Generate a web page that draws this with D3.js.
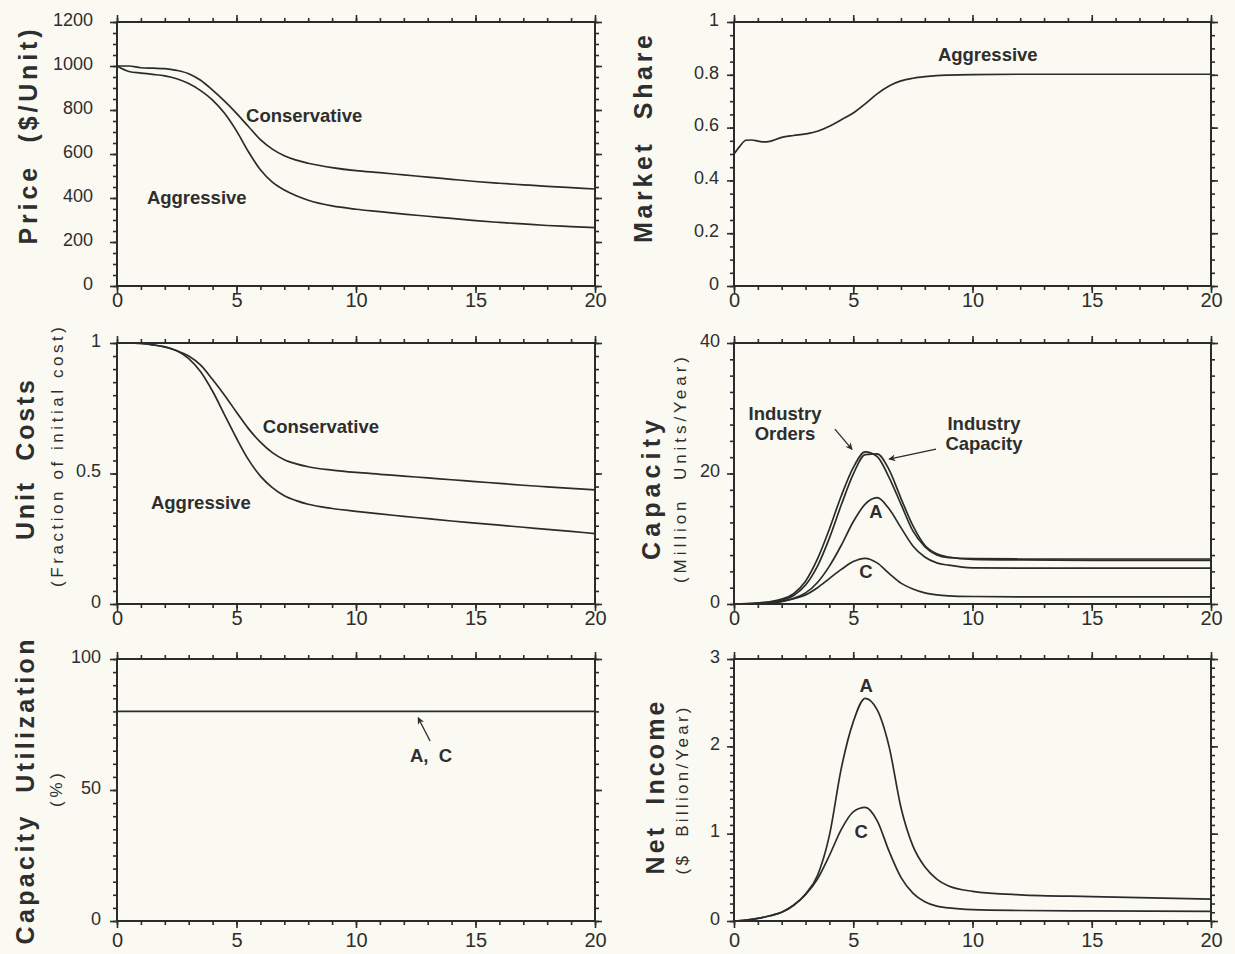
<!DOCTYPE html>
<html>
<head>
<meta charset="utf-8">
<script src="https://cdn.jsdelivr.net/npm/d3@7"></script>
<style>
  body { margin: 0; background: #fafaf2; }
  svg { display: block; }
  text { font-family: "Liberation Sans", Arial, Helvetica, sans-serif; fill: #2e2e2e; }
</style>
</head>
<body>
<svg id="chart" width="1235" height="954"></svg>
<script>
// ---- data (time in years) ----
const priceT = [0, 0.5, 1, 1.5, 2, 2.5, 3, 3.5, 4, 4.5, 5, 5.5, 6, 6.5, 7, 7.5, 8, 9, 10, 11, 12, 13, 14, 15, 16, 17, 18, 19, 20]
const priceConservative = [1000, 1000, 992, 990, 988, 980, 965, 935, 890, 840, 785, 725, 665, 622, 592, 572, 558, 538, 524, 515, 505, 495, 485, 475, 467, 460, 453, 447, 441]
const priceAggressive = [1000, 975, 968, 962, 955, 942, 920, 888, 845, 785, 705, 610, 528, 472, 436, 410, 390, 364, 349, 338, 327, 317, 307, 297, 289, 282, 275, 270, 265]

const costConservative = [1, 1, 0.998, 0.993, 0.985, 0.97, 0.95, 0.915, 0.86, 0.8, 0.735, 0.672, 0.62, 0.58, 0.553, 0.537, 0.526, 0.513, 0.504, 0.497, 0.49, 0.483, 0.476, 0.469, 0.462, 0.455, 0.449, 0.443, 0.437]
const costAggressive = [1, 1, 0.998, 0.993, 0.985, 0.97, 0.94, 0.89, 0.815, 0.725, 0.635, 0.553, 0.49, 0.446, 0.415, 0.396, 0.382, 0.366, 0.355, 0.345, 0.336, 0.327, 0.318, 0.31, 0.302, 0.294, 0.286, 0.278, 0.27]

const shareT = [0, 0.25, 0.5, 0.75, 1, 1.25, 1.5, 2, 2.5, 3, 3.5, 4, 4.5, 5, 5.5, 6, 6.5, 7, 7.5, 8, 8.5, 9, 10, 12, 14, 16, 18, 20]
const shareAggressive = [0.5, 0.53, 0.552, 0.553, 0.549, 0.546, 0.548, 0.563, 0.57, 0.576, 0.586, 0.605, 0.63, 0.655, 0.69, 0.728, 0.758, 0.777, 0.787, 0.793, 0.797, 0.799, 0.801, 0.802, 0.802, 0.802, 0.802, 0.802]

const capT = [0, 0.5, 1, 1.5, 2, 2.5, 3, 3.5, 4, 4.5, 5, 5.5, 6, 6.5, 7, 7.5, 8, 8.5, 9, 10, 12, 15, 20]
const industryOrders = [0, 0.05, 0.15, 0.35, 0.75, 1.6, 3.5, 6.9, 11.5, 16.6, 20.9, 23.3, 22.6, 19.4, 15.3, 11.2, 8.8, 7.5, 7.1, 6.95, 6.9, 6.9, 6.9]
const industryCapacity = [0, 0.04, 0.12, 0.28, 0.6, 1.3, 2.9, 5.8, 10.1, 15.2, 19.9, 22.9, 23.0, 20.6, 16.2, 12.0, 9.0, 7.7, 7.2, 6.85, 6.75, 6.7, 6.7]
const capacityA = [0, 0.02, 0.08, 0.22, 0.45, 0.87, 1.7, 3.3, 5.8, 9.0, 12.6, 15.3, 16.3, 14.6, 11.7, 8.9, 7.2, 6.3, 5.95, 5.55, 5.5, 5.5, 5.5]
const capacityC = [0, 0.02, 0.06, 0.15, 0.35, 0.8, 1.4, 2.5, 3.9, 5.3, 6.5, 7.0, 6.3, 4.7, 3.2, 2.3, 1.7, 1.4, 1.25, 1.15, 1.1, 1.1, 1.1]

const utilT = [0, 20]
const utilizationAC = [80, 80]

const incomeA = [0, 0.01, 0.03, 0.06, 0.1, 0.18, 0.31, 0.52, 0.98, 1.75, 2.28, 2.55, 2.42, 2.0, 1.3, 0.86, 0.62, 0.48, 0.4, 0.34, 0.3, 0.28, 0.25]
const incomeC = [0, 0.01, 0.03, 0.06, 0.1, 0.18, 0.3, 0.48, 0.75, 1.05, 1.25, 1.3, 1.15, 0.8, 0.5, 0.32, 0.22, 0.17, 0.15, 0.13, 0.12, 0.115, 0.11]

const yearTicks = [0, 5, 10, 15, 20]
const yearMinor = d3.range(0, 21)

// ---- layout ----
const ink = '#2b2b2b'
const cols = { left: [117, 595], right: [734, 1211] }
const rows = [[22, 286], [343, 604], [659, 921]]

const svg = d3.select('#chart')
svg.append('rect').attr('width', 1235).attr('height', 954).attr('fill', '#fafaf2')

const zip = (t, v) => t.map((d, i) => [d, v[i]])

const panels = [
  {
    col: 'left', row: 0, yMax: 1200, yTicks: d3.range(0, 1201, 200), yMinor: d3.range(0, 1201, 50), labelGap: 24, xPad: 0,
    series: [zip(priceT, priceConservative), zip(priceT, priceAggressive)],
    titles: [{ text: 'Price  ($/Unit)', x: 37, y: 137, len: 215, big: true }],
    notes: [{ text: 'Conservative', t: 5.4, v: 745 }, { text: 'Aggressive', t: 1.25, v: 373 }],
  },
  {
    col: 'right', row: 0, yMax: 1, yTicks: [0, 0.2, 0.4, 0.6, 0.8, 1], yMinor: d3.range(0, 1.001, 0.05), labelGap: 15, xPad: 0,
    series: [zip(shareT, shareAggressive)],
    titles: [{ text: 'Market  Share', x: 652, y: 139, len: 208, big: true }],
    notes: [{ text: 'Aggressive', t: 8.55, v: 0.852 }],
  },
  {
    col: 'left', row: 1, yMax: 1, yTicks: [0, 0.5, 1], yMinor: d3.range(0, 1.001, 0.05), labelGap: 16, xPad: 0,
    series: [zip(priceT, costConservative), zip(priceT, costAggressive)],
    titles: [
      { text: 'Unit  Costs', x: 34, y: 460, len: 160, big: true },
      { text: '(Fraction of initial cost)', x: 63, y: 457, len: 260 },
    ],
    notes: [{ text: 'Conservative', t: 6.1, v: 0.656 }, { text: 'Aggressive', t: 1.42, v: 0.363 }],
  },
  {
    col: 'right', row: 1, yMax: 40, yTicks: [0, 20, 40], yMinor: d3.range(0, 40.1, 2.5), labelGap: 14, xPad: 0,
    series: [zip(capT, industryOrders), zip(capT, industryCapacity), zip(capT, capacityA), zip(capT, capacityC)],
    titles: [
      { text: 'Capacity', x: 660, y: 490, len: 140, big: true },
      { text: '(Million  Units/Year)', x: 686, y: 470, len: 226 },
    ],
    notes: [
      { text: 'Industry', t: 2.14, v: 28.2, anchor: 'middle' },
      { text: 'Orders', t: 2.14, v: 25.1, anchor: 'middle' },
      { text: 'Industry', t: 10.48, v: 26.7, anchor: 'middle' },
      { text: 'Capacity', t: 10.48, v: 23.6, anchor: 'middle' },
      { text: 'A', t: 5.95, v: 13.2, anchor: 'middle' },
      { text: 'C', t: 5.53, v: 4.0, anchor: 'middle' },
    ],
    arrows: [
      { from: [4.23, 26.8], to: [4.95, 23.7] },
      { from: [8.47, 23.75], to: [6.5, 22.2] },
    ],
  },
  {
    col: 'left', row: 2, yMax: 100, yTicks: [0, 50, 100], yMinor: d3.range(0, 101, 5), labelGap: 16, xPad: 5,
    series: [zip(utilT, utilizationAC)],
    titles: [
      { text: 'Capacity  Utilization', x: 34, y: 792, len: 305, big: true },
      { text: '(%)', x: 62, y: 790, len: 34 },
    ],
    notes: [{ text: 'A,  C', t: 12.26, v: 60.7 }],
    arrows: [{ from: [13.1, 68.7], to: [12.6, 77.6] }],
  },
  {
    col: 'right', row: 2, yMax: 3, yTicks: [0, 1, 2, 3], yMinor: d3.range(0, 3.001, 0.1), labelGap: 14, xPad: 5,
    series: [zip(capT, incomeA), zip(capT, incomeC)],
    titles: [
      { text: 'Net  Income', x: 664, y: 788, len: 173, big: true },
      { text: '($  Billion/Year)', x: 688, y: 791, len: 167 },
    ],
    notes: [{ text: 'A', t: 5.54, v: 2.62, anchor: 'middle' }, { text: 'C', t: 5.33, v: 0.95, anchor: 'middle' }],
  },
]

svg.append('defs').append('marker')
  .attr('id', 'head')
  .attr('viewBox', '0 0 10 10')
  .attr('refX', 9).attr('refY', 5)
  .attr('markerWidth', 9).attr('markerHeight', 7)
  .attr('markerUnits', 'userSpaceOnUse')
  .attr('orient', 'auto')
  .append('path').attr('d', 'M0,0 L10,5 L0,10 L3,5 z').attr('fill', ink)

const styleAxis = (sel) => {
  sel.select('.domain').remove()
  sel.selectAll('line').attr('stroke', ink).attr('stroke-width', 1.6)
  sel.selectAll('text').attr('fill', '#333').attr('font-family', '"Liberation Sans", Arial, sans-serif')
}

panels.forEach((p) => {
  const x = d3.scaleLinear().domain([0, 20]).range(cols[p.col])
  const y = d3.scaleLinear().domain([0, p.yMax]).range([rows[p.row][1], rows[p.row][0]])
  const [x0, x1] = x.range()
  const [yb, yt] = y.range()
  const g = svg.append('g')

  // minor ticks on all four sides
  g.append('g').attr('transform', `translate(0,${yb})`).call(d3.axisBottom(x).tickValues(yearMinor).tickSize(4).tickFormat('')).call(styleAxis)
  g.append('g').attr('transform', `translate(0,${yt})`).call(d3.axisTop(x).tickValues(yearMinor).tickSize(4).tickFormat('')).call(styleAxis)
  g.append('g').attr('transform', `translate(${x0},0)`).call(d3.axisLeft(y).tickValues(p.yMinor).tickSize(4).tickFormat('')).call(styleAxis)
  g.append('g').attr('transform', `translate(${x1},0)`).call(d3.axisRight(y).tickValues(p.yMinor).tickSize(4).tickFormat('')).call(styleAxis)

  // major ticks + labels
  g.append('g').attr('transform', `translate(0,${yb})`)
    .call(d3.axisBottom(x).tickValues(yearTicks).tickSize(7).tickPadding(p.xPad).tickFormat(d3.format('d')))
    .call(styleAxis)
    .selectAll('text').attr('font-size', 20)
  g.append('g').attr('transform', `translate(0,${yt})`).call(d3.axisTop(x).tickValues(yearTicks).tickSize(7).tickFormat('')).call(styleAxis)
  g.append('g').attr('transform', `translate(${x0},0)`)
    .call(d3.axisLeft(y).tickValues(p.yTicks).tickSize(7).tickPadding(p.labelGap - 7).tickFormat((d) => String(d)))
    .call(styleAxis)
    .selectAll('text').attr('font-size', 18).attr('dy', '0.18em')
  g.append('g').attr('transform', `translate(${x1},0)`).call(d3.axisRight(y).tickValues(p.yTicks).tickSize(7).tickFormat('')).call(styleAxis)

  // frame
  g.append('rect')
    .attr('x', x0).attr('y', yt).attr('width', x1 - x0).attr('height', yb - yt)
    .attr('fill', 'none').attr('stroke', ink).attr('stroke-width', 2)

  const line = d3.line().x((d) => x(d[0])).y((d) => y(d[1])).curve(d3.curveMonotoneX)
  g.selectAll('path.series').data(p.series).join('path')
    .attr('class', 'series')
    .attr('d', line)
    .attr('fill', 'none').attr('stroke', ink).attr('stroke-width', 1.7)

  p.titles.forEach((tt) => {
    g.append('text')
      .attr('transform', `translate(${tt.x},${tt.y}) rotate(-90)`)
      .attr('text-anchor', 'middle')
      .attr('font-size', tt.big ? 25 : 17)
      .attr('font-weight', tt.big ? 'bold' : 'normal')
      .attr('textLength', tt.len)
      .attr('lengthAdjust', 'spacing')
      .style('white-space', 'pre')
      .text(tt.text)
  })

  ;(p.notes || []).forEach((n) => {
    g.append('text')
      .attr('x', x(n.t)).attr('y', y(n.v))
      .attr('text-anchor', n.anchor || 'start')
      .attr('font-size', 18.5).attr('font-weight', 'bold')
      .style('white-space', 'pre')
      .text(n.text)
  })

  ;(p.arrows || []).forEach((a) => {
    g.append('line')
      .attr('x1', x(a.from[0])).attr('y1', y(a.from[1]))
      .attr('x2', x(a.to[0])).attr('y2', y(a.to[1]))
      .attr('stroke', ink).attr('stroke-width', 1.3)
      .attr('marker-end', 'url(#head)')
  })
})
</script>
</body>
</html>
